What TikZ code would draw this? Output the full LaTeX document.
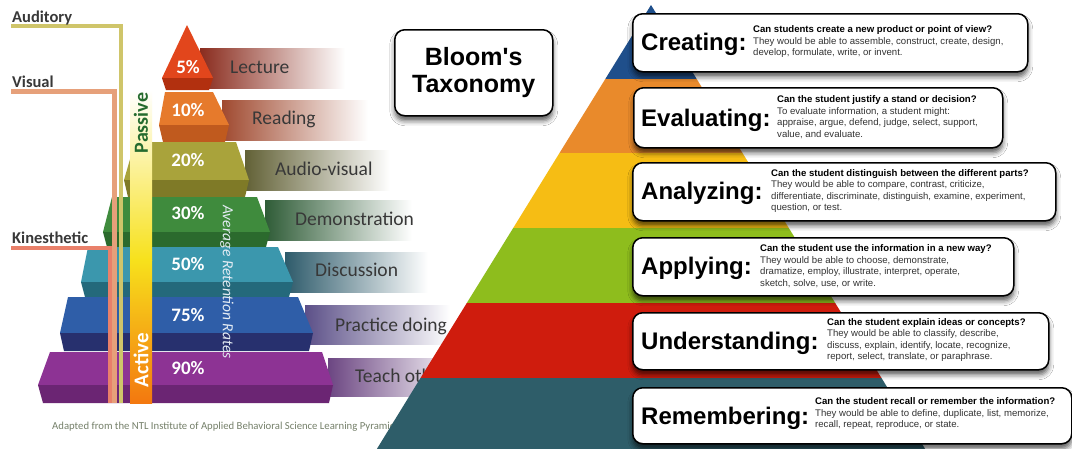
\documentclass[tikz,border=0pt]{standalone}
\usepackage{fontspec}
\setmainfont{Liberation Sans}
\newfontfamily\calfont{Carlito}
\usetikzlibrary{shadows.blur}

\definecolor{lyrred}{HTML}{E2461C}
\definecolor{lyrredd}{HTML}{B2300F}
\definecolor{lyrora}{HTML}{E67A2C}
\definecolor{lyrorad}{HTML}{C05A1E}
\definecolor{lyroli}{HTML}{A9A33B}
\definecolor{lyrolid}{HTML}{7F7A27}
\definecolor{lyrgrn}{HTML}{3F8B3D}
\definecolor{lyrgrnd}{HTML}{2B6A2D}
\definecolor{lyrtea}{HTML}{3B97AD}
\definecolor{lyrtead}{HTML}{24697B}
\definecolor{lyrblu}{HTML}{2F5EA8}
\definecolor{lyrblud}{HTML}{27306E}
\definecolor{lyrpur}{HTML}{8D3394}
\definecolor{lyrpurd}{HTML}{6B2573}
\definecolor{bndred}{HTML}{8A2C1E}
\definecolor{bndora}{HTML}{A04A30}
\definecolor{bndoli}{HTML}{626136}
\definecolor{bndgrn}{HTML}{2F5C37}
\definecolor{bndtea}{HTML}{2E5B6B}
\definecolor{bndblu}{HTML}{5C5088}
\definecolor{bndpur}{HTML}{6C4682}
\definecolor{audcol}{HTML}{CFC56A}
\definecolor{viscol}{HTML}{E6A07A}
\definecolor{kincol}{HTML}{E9806A}
\definecolor{pasgrn}{HTML}{256B2E}
\definecolor{barylw}{HTML}{F7E11C}
\definecolor{barora}{HTML}{F3780F}
\definecolor{labgry}{HTML}{383838}
\definecolor{notegry}{HTML}{75806A}
\definecolor{ratecol}{HTML}{E4ECF4}
\definecolor{blmblu}{HTML}{1F4F8B}
\definecolor{blmora}{HTML}{E98A2B}
\definecolor{blmylw}{HTML}{F6BD14}
\definecolor{blmgrn}{HTML}{8EBD1D}
\definecolor{blmred}{HTML}{CF1C0D}
\definecolor{blmtea}{HTML}{2E5D69}
\definecolor{desctxt}{HTML}{333333}

\tikzset{
  card/.style={draw=black, line width=1.5pt, fill=white, rounded corners=10pt,
    blur shadow={shadow xshift=0pt, shadow yshift=-5pt, shadow blur radius=5pt, shadow opacity=65},
    inner sep=0pt, anchor=north west},
  cardname/.style={font=\bfseries\fontsize{24}{26}\selectfont, inner sep=0pt, anchor=base west},
  carddesc/.style={font=\fontsize{9.6}{11.5}\selectfont, text=desctxt, align=left, inner sep=0pt, anchor=west},
  pct/.style={font=\calfont\bfseries\fontsize{19}{20}\selectfont, text=white, inner sep=0pt},
  way/.style={font=\calfont\fontsize{19.5}{20}\selectfont, text=labgry, inner sep=0pt, anchor=base west},
  sense/.style={font=\calfont\bfseries\fontsize{16.5}{18}\selectfont, text=labgry, inner sep=0pt, anchor=base west},
  senseline/.style={line width=3.5pt}
}

\begin{document}
\begin{tikzpicture}[x=1pt,y=-1pt]
\useasboundingbox (0,0) rectangle (1072,448);
\fill[white] (0,0) rectangle (1072,448);

\fill[left color=bndred, right color=white] (200,48) rectangle (345,88);
\fill[left color=bndora, right color=white] (222,100) rectangle (368,140);
\fill[left color=bndoli, right color=white] (245,150) rectangle (390,190);
\fill[left color=bndgrn, right color=white] (265,200) rectangle (412,240);
\fill[left color=bndtea, right color=white] (285,252) rectangle (428,292);
\fill[left color=bndblu, right color=white] (305,305) rectangle (450,344);
\fill[left color=bndpur, right color=white] (328,358) rectangle (462,396);

\fill[lyrred] (187,25) -- (213,78) -- (162,78) -- cycle;
\fill[lyrredd] (162,78) -- (213,78) -- (209,90) -- (166,90) -- cycle;
\fill[lyrora] (165,92) -- (213,92) -- (229,125) -- (159,125) -- cycle;
\fill[lyrorad] (159,125) -- (229,125) -- (225,142) -- (163,142) -- cycle;
\fill[lyroli] (135,142) -- (236,142) -- (249,180) -- (124,180) -- cycle;
\fill[lyrolid] (124,180) -- (249,180) -- (245,197) -- (128,197) -- cycle;
\fill[lyrgrn] (112,197) -- (257,197) -- (270,232) -- (103,232) -- cycle;
\fill[lyrgrnd] (103,232) -- (270,232) -- (266,247) -- (107,247) -- cycle;
\fill[lyrtea] (88,247) -- (278,247) -- (293,282) -- (81,282) -- cycle;
\fill[lyrtead] (81,282) -- (293,282) -- (289,297) -- (85,297) -- cycle;
\fill[lyrblu] (68,297) -- (298,297) -- (313,333) -- (60,333) -- cycle;
\fill[lyrblud] (60,333) -- (313,333) -- (309,351) -- (64,351) -- cycle;
\fill[lyrpur] (50,352) -- (322,352) -- (333,385) -- (38,385) -- cycle;
\fill[lyrpurd] (38,385) -- (333,385) -- (329,403) -- (43,403) -- cycle;

\coordinate (audS) at (11,26);
\coordinate (audE) at (121,403);
\coordinate (visS) at (11,91);
\coordinate (visE) at (114.5,403);
\coordinate (kinS) at (11,248);
\coordinate (kinE) at (110,403);
\draw[senseline, audcol] (audS) -| (audE);
\draw[senseline, viscol, line width=5pt] (visS) -| (visE);
\draw[senseline, kincol] (kinS) -| (kinE);

\fill[top color=white, bottom color=barylw] (130,90) rectangle (152,260);
\fill[top color=barylw, bottom color=barora] (130,260) rectangle (152,403);

\node[sense] (aud) at (12,22) {Auditory};
\node[sense] (vis) at (12,87) {Visual};
\node[sense] (kin) at (12,243) {Kinesthetic};
\node[font=\calfont\bfseries\fontsize{20}{20}\selectfont, text=pasgrn, rotate=90, inner sep=0pt] (pas) at (141,123) {Passive};
\node[font=\calfont\bfseries\fontsize{21}{21}\selectfont, text=white, rotate=90, inner sep=0pt] (act) at (141,360) {Active};
\node[font=\calfont\itshape\fontsize{15.5}{16}\selectfont, text=ratecol, rotate=-90, inner sep=0pt] (rate) at (227,282) {Average Retention Rates};

\node[pct] (p5) at (188,67) {5\%};
\node[pct] (p10) at (188,110) {10\%};
\node[pct] (p20) at (188,160) {20\%};
\node[pct] (p30) at (188,213) {30\%};
\node[pct] (p50) at (188,264) {50\%};
\node[pct] (p75) at (188,315) {75\%};
\node[pct] (p90) at (188,368) {90\%};

\node[way] (lec) at (230,73) {Lecture};
\node[way] (rea) at (252,124) {Reading};
\node[way] (avi) at (275,175) {Audio-visual};
\node[way] (dem) at (295,225) {Demonstration};
\node[way] (dis) at (315,276) {Discussion};
\node[way] (pra) at (335,331) {Practice doing};
\node[way] (tea) at (355,382) {Teach others};

\node[font=\calfont\fontsize{10.7}{11}\selectfont, text=notegry, anchor=base west, inner sep=0pt] (note) at (52,429) {Adapted from the NTL Institute of Applied Behavioral Science Learning Pyramid};

\fill[blmblu] (651,5) -- (696.7,79) -- (605.3,79) -- cycle;
\fill[blmora] (605.3,79) -- (696.7,79) -- (742.5,153) -- (559.5,153) -- cycle;
\fill[blmylw] (559.5,153) -- (742.5,153) -- (788.8,228) -- (513.2,228) -- cycle;
\fill[blmgrn] (513.2,228) -- (788.8,228) -- (835.2,303) -- (466.8,303) -- cycle;
\fill[blmred] (466.8,303) -- (835.2,303) -- (881.5,378) -- (420.5,378) -- cycle;
\fill[blmtea] (420.5,378) -- (881.5,378) -- (927,452) -- (375,452) -- cycle;

\node[card, minimum width=158pt, minimum height=86pt, align=center, font=\bfseries\fontsize{25}{27}\selectfont] (bloom) at (394,29) {Bloom\textquotesingle s\\Taxonomy};

\node[card, minimum width=395pt, minimum height=58pt] (cre) at (632,13) {};
\node[cardname] (crel) at (641,50) {Creating:};
\node[carddesc] (cred) at (753,42) {\textcolor{black}{\bfseries Can students create a new product or point of view?}\\They would be able to assemble, construct, create, design,\\develop, formulate, write, or invent.};

\node[card, minimum width=369pt, minimum height=60pt] (eva) at (633,87) {};
\node[cardname] (eval) at (641,126) {Evaluating:};
\node[carddesc] (evad) at (777,117) {\textcolor{black}{\bfseries Can the student justify a stand or decision?}\\To evaluate information, a student might:\\appraise, argue, defend, judge, select, support,\\value, and evaluate.};

\node[card, minimum width=423pt, minimum height=58pt] (ana) at (632,162) {};
\node[cardname] (anal) at (641,199) {Analyzing:};
\node[carddesc] (anad) at (771,191) {\textcolor{black}{\bfseries Can the student distinguish between the different parts?}\\They would be able to compare, contrast, criticize,\\differentiate, discriminate, distinguish, examine, experiment,\\question, or test.};

\node[card, minimum width=381pt, minimum height=58pt] (app) at (632,237) {};
\node[cardname] (appl) at (641,274) {Applying:};
\node[carddesc] (appd) at (760,266) {\textcolor{black}{\bfseries Can the student use the information in a new way?}\\They would be able to choose, demonstrate,\\dramatize, employ, illustrate, interpret, operate,\\sketch, solve, use, or write.};

\node[card, minimum width=416pt, minimum height=57pt] (und) at (632,312) {};
\node[cardname] (undl) at (641,349) {Understanding:};
\node[carddesc] (undd) at (827,340) {\textcolor{black}{\bfseries Can the student explain ideas or concepts?}\\They would be able to classify, describe,\\discuss, explain, identify, locate, recognize,\\report, select, translate, or paraphrase.};

\node[card, minimum width=439pt, minimum height=56pt] (rem) at (632,387) {};
\node[cardname] (reml) at (641,424) {Remembering:};
\node[carddesc] (remd) at (815,414) {\textcolor{black}{\bfseries Can the student recall or remember the information?}\\They would be able to define, duplicate, list, memorize,\\recall, repeat, reproduce, or state.};
\end{tikzpicture}
\end{document}
